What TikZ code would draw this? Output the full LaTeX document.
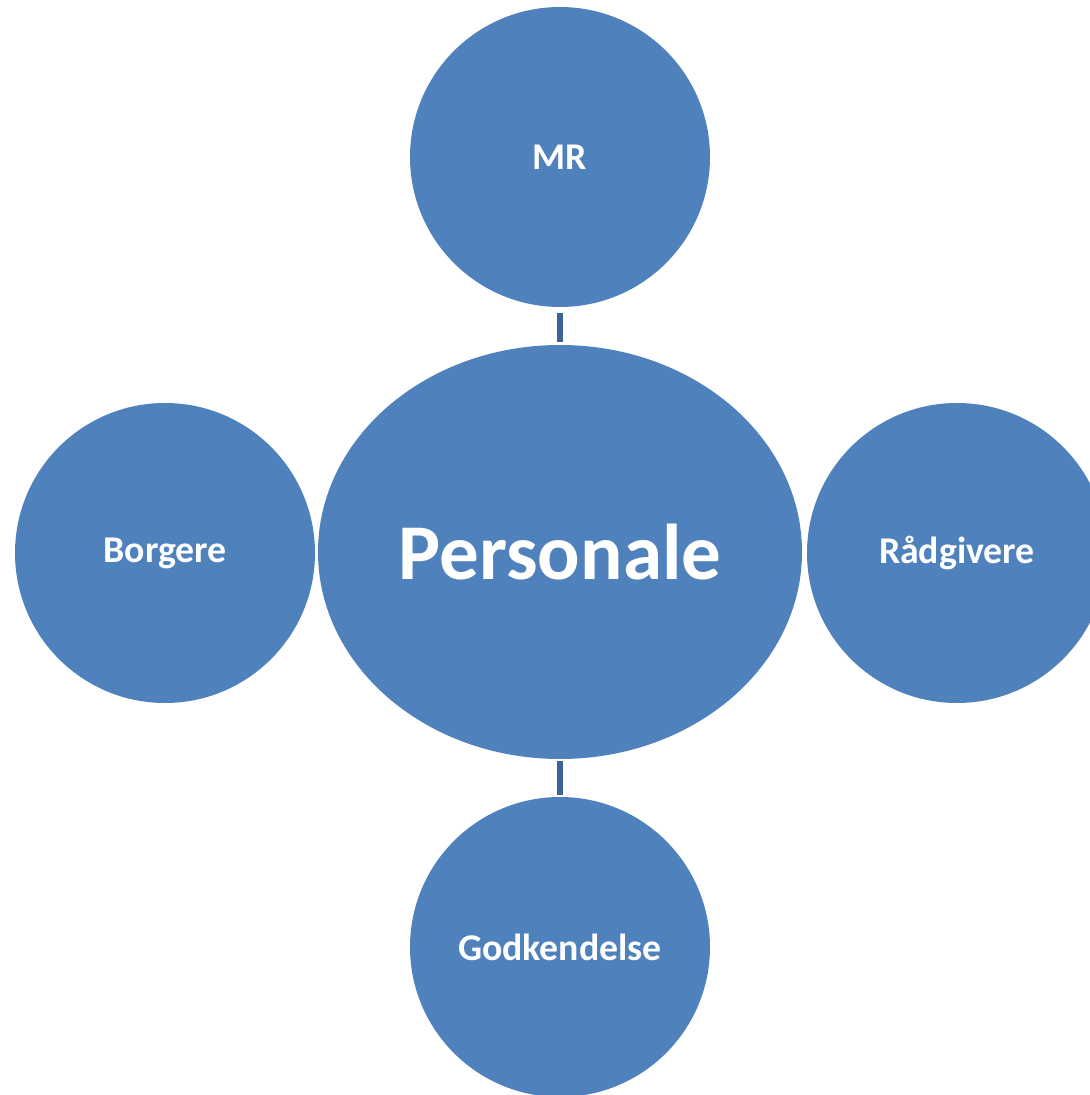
\documentclass[tikz,border=0pt]{standalone}
\usepackage{fontspec}
\setmainfont{Carlito}
\usetikzlibrary{shapes.geometric}

\definecolor{bubblefill}{HTML}{4F81BD}
\definecolor{linkblue}{RGB}{60,100,150}

\begin{document}
\begin{tikzpicture}[
		bubble/.style={circle,fill=bubblefill,text=white,inner sep=0pt,minimum size=6cm,font=\fontsize{21.5}{26}\selectfont\bfseries},
		hub/.style={ellipse,fill=bubblefill,text=white,inner sep=0pt,minimum width=9.68cm,minimum height=8.28cm,font=\fontsize{45}{54}\selectfont\bfseries},
		link/.style={draw=linkblue,line width=0.12cm}
	]
		\useasboundingbox (0,0) rectangle (21.78,21.9);

		\node[hub] at (11.2,10.86) (pers) {Personale};
		\node[bubble] at (11.2,18.76) (mr) {MR};
		\node[bubble] at (3.3,10.84) (borg) {Borgere};
		\node[bubble] at (19.14,10.84) (raad) {Rådgivere};
		\node[bubble] at (11.2,2.96) (godk) {Godkendelse};

		\draw[link,shorten <=0.12cm,shorten >=0.06cm] (mr.south) -- (pers.north);
		\draw[link,shorten <=0.04cm,shorten >=0.04cm] (pers.south) -- (godk.north);
	\end{tikzpicture}
\end{document}
